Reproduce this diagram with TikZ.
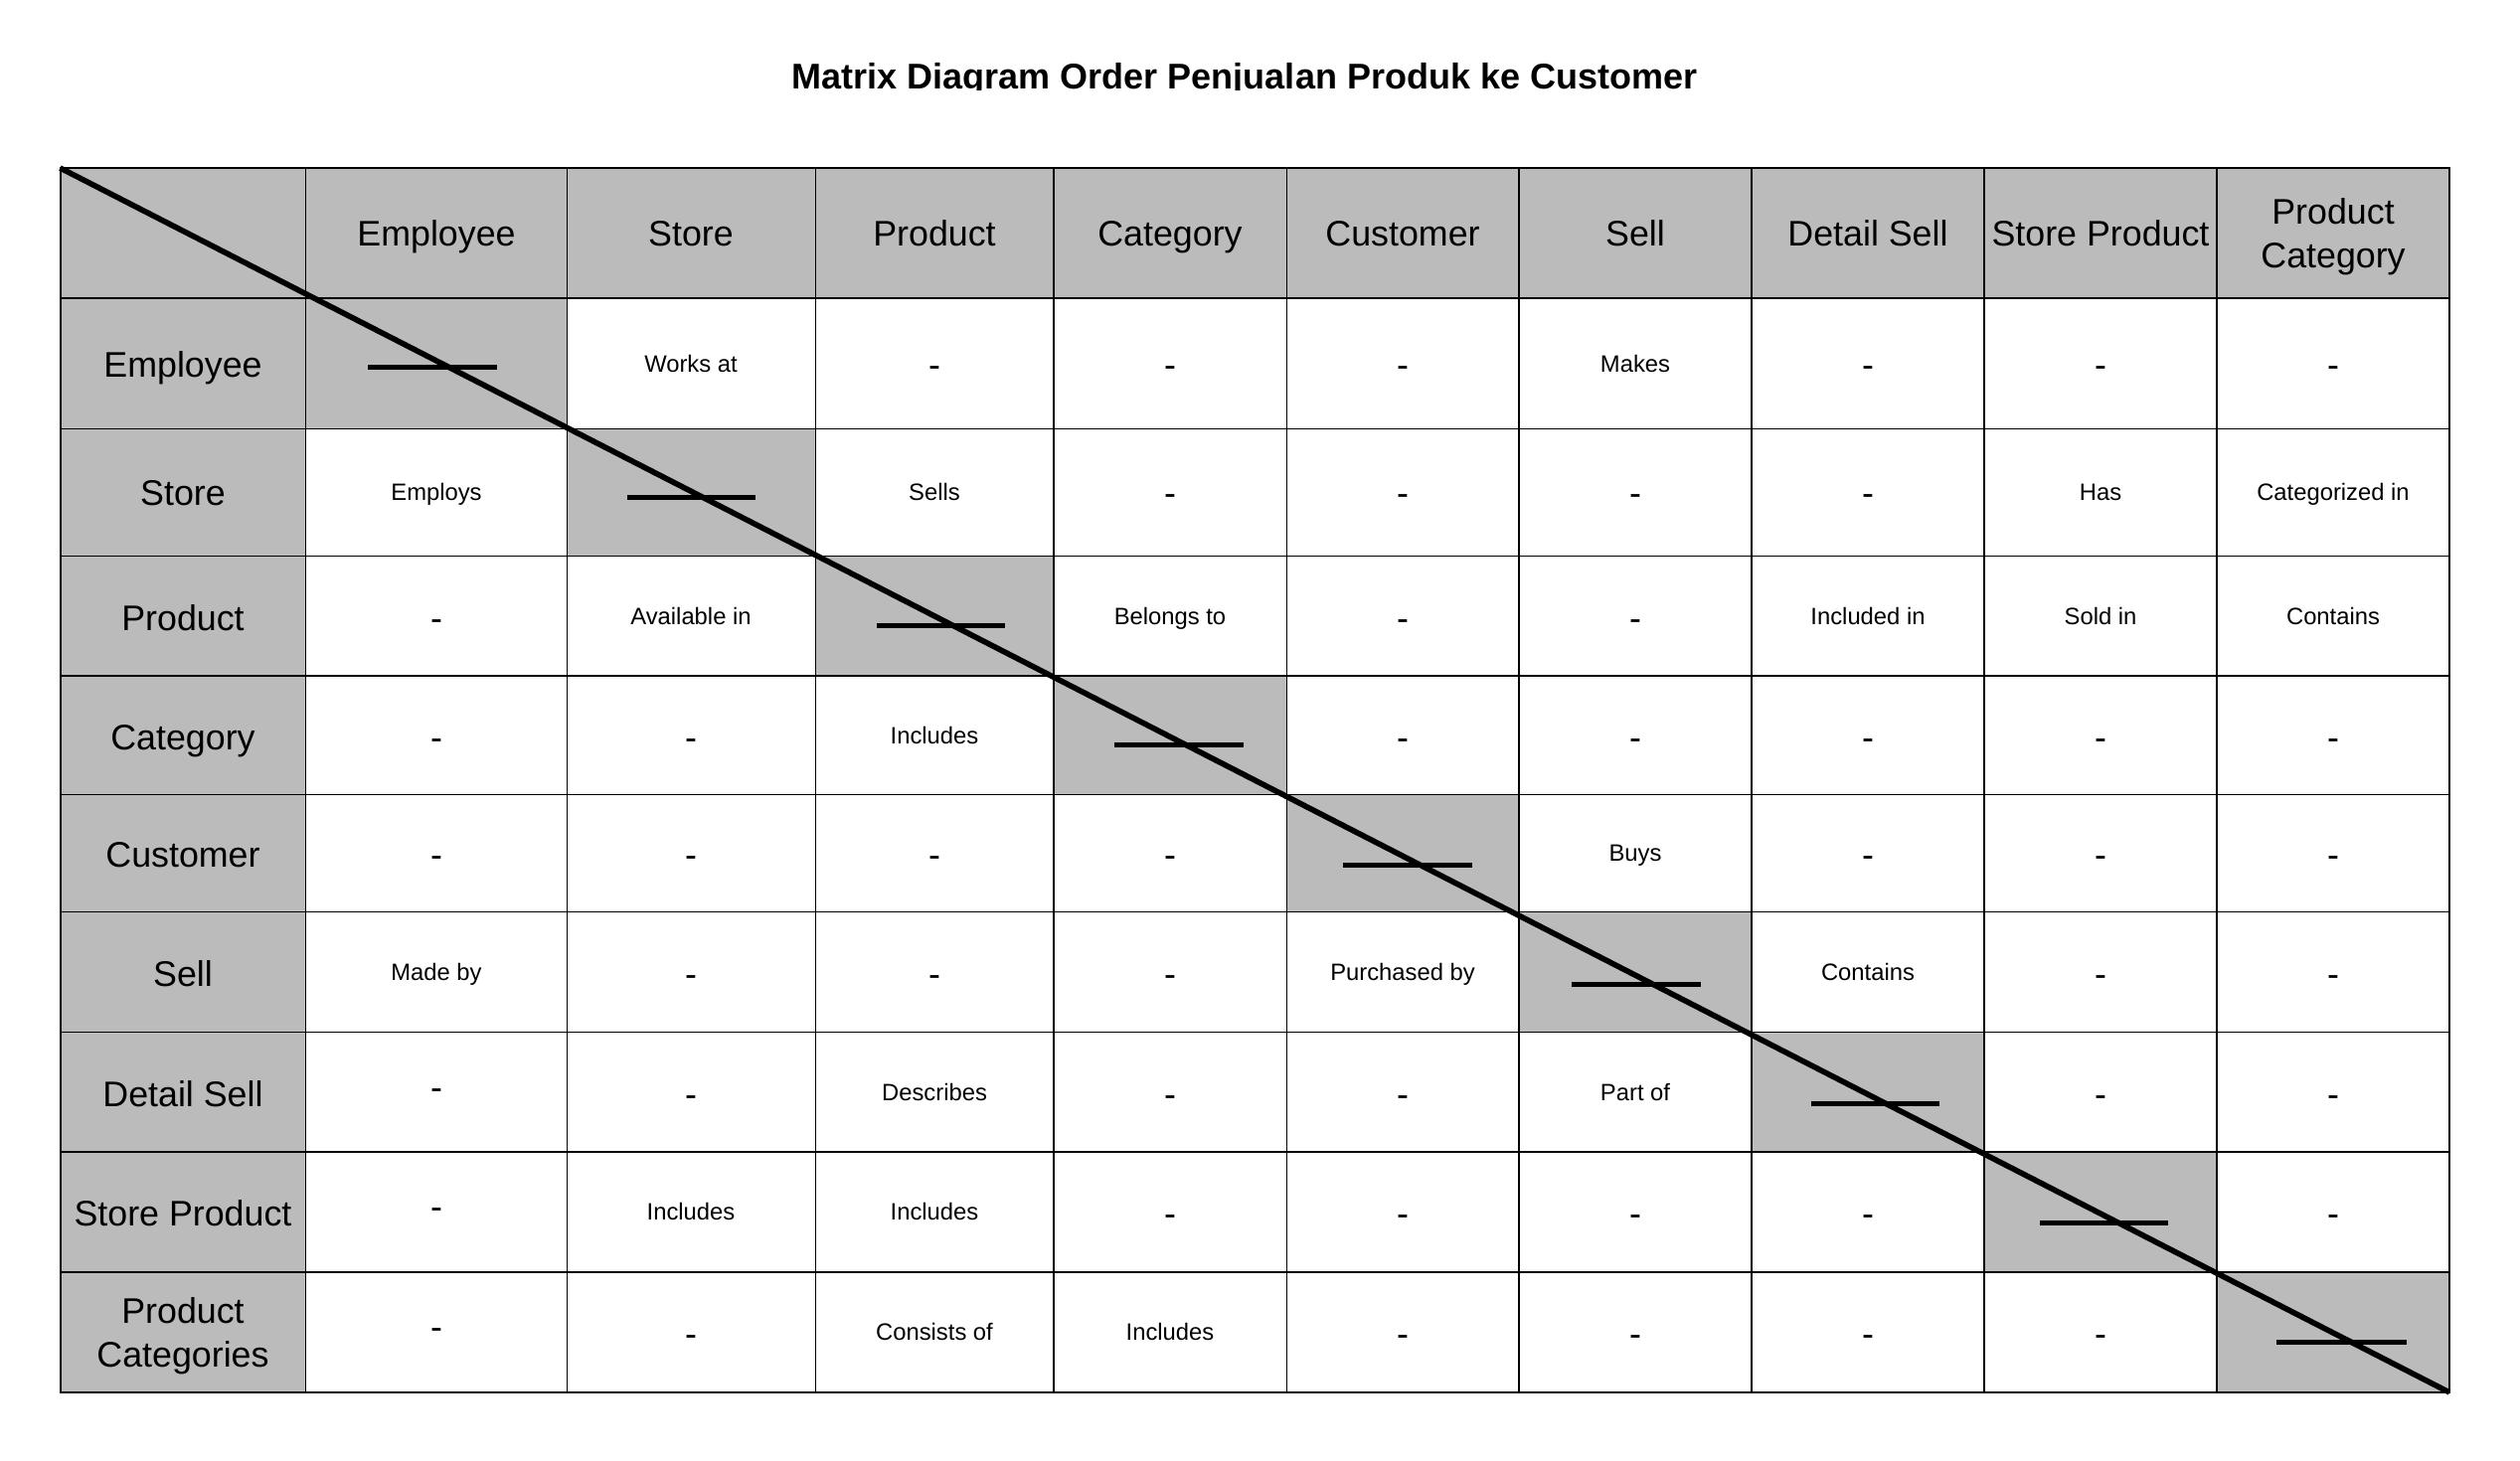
\documentclass[tikz,border=0pt]{standalone}
\usepackage{fontspec}
\setmainfont{Liberation Sans}
\definecolor{cellgray}{RGB}{187,187,187}
\tikzset{
  big/.style={font=\fontsize{17.9pt}{22pt}\selectfont, text height=14pt, text depth=0pt, inner sep=0pt},
  twoline/.style={font=\fontsize{17.9pt}{22pt}\selectfont, align=center, inner sep=0pt},
  small/.style={font=\fontsize{11.9pt}{14pt}\selectfont, text height=8.5pt, text depth=0pt, inner sep=0pt},
  heading/.style={font=\bfseries\fontsize{18pt}{22pt}\selectfont, inner sep=0pt},
  gridline/.style={line width=0.75pt},
  border/.style={line width=1pt},
  diagline/.style={line width=2.8pt},
  diagmark/.style={line width=2.5pt},
}
\begin{document}
\begin{tikzpicture}[x=0.5pt,y=-0.5pt]
\useasboundingbox (0,0) rectangle (2535,1470);

\begin{scope}
\clip (0,0) rectangle (2535,91);
\node[heading, anchor=base] (t) at (1252,90) {Matrix Diagram Order Penjualan Produk ke Customer};
\end{scope}

\fill[cellgray] (60.5,169) rectangle (2464,300);
\fill[cellgray] (60.5,300) rectangle (307.7,1401);
\fill[cellgray] (307.7,300) rectangle (570.3,431.5);
\fill[cellgray] (570.3,431.5) rectangle (820.5,559.5);
\fill[cellgray] (820.5,559.5) rectangle (1060,680);
\fill[cellgray] (1060,680) rectangle (1294.5,799.5);
\fill[cellgray] (1294.5,799.5) rectangle (1528.2,917.5);
\fill[cellgray] (1528.2,917.5) rectangle (1762.2,1038.5);
\fill[cellgray] (1762.2,1038.5) rectangle (1996,1159);
\fill[cellgray] (1996,1159) rectangle (2230,1280);
\fill[cellgray] (2230,1280) rectangle (2464,1401);

\draw[gridline] (60.5,300) -- (2464,300);
\draw[gridline] (60.5,431.5) -- (2464,431.5);
\draw[gridline] (60.5,559.5) -- (2464,559.5);
\draw[gridline] (60.5,680) -- (2464,680);
\draw[gridline] (60.5,799.5) -- (2464,799.5);
\draw[gridline] (60.5,917.5) -- (2464,917.5);
\draw[gridline] (60.5,1038.5) -- (2464,1038.5);
\draw[gridline] (60.5,1159) -- (2464,1159);
\draw[gridline] (60.5,1280) -- (2464,1280);
\draw[gridline] (307.7,169) -- (307.7,1401);
\draw[gridline] (570.3,169) -- (570.3,1401);
\draw[gridline] (820.5,169) -- (820.5,1401);
\draw[gridline] (1060,169) -- (1060,1401);
\draw[gridline] (1294.5,169) -- (1294.5,1401);
\draw[gridline] (1528.2,169) -- (1528.2,1401);
\draw[gridline] (1762.2,169) -- (1762.2,1401);
\draw[gridline] (1996,169) -- (1996,1401);
\draw[gridline] (2230,169) -- (2230,1401);
\draw[border] (60.5,169) rectangle (2464,1401);

\draw[diagline] (60.5,169) -- (2464,1401);
\draw[diagmark] (370,370) -- (500,370);
\draw[diagmark] (631,500) -- (760,500);
\draw[diagmark] (882,629.5) -- (1011,629.5);
\draw[diagmark] (1121,749) -- (1251,749);
\draw[diagmark] (1351,870) -- (1481,870);
\draw[diagmark] (1581,990.5) -- (1711,990.5);
\draw[diagmark] (1822,1110) -- (1951,1110);
\draw[diagmark] (2052,1230) -- (2181,1230);
\draw[diagmark] (2290,1350) -- (2421,1350);

\node[big] (h1) at (439,234) {Employee};
\node[big] (h2) at (695,234) {Store};
\node[big] (h3) at (940,234) {Product};
\node[big] (h4) at (1177,234) {Category};
\node[big] (h5) at (1411,234) {Customer};
\node[big] (h6) at (1645,234) {Sell};
\node[big] (h7) at (1879,234) {Detail Sell};
\node[big] (h8) at (2113,234) {Store Product};
\node[twoline] (h9) at (2347,238) {Product\\Category};

\node[big] (r1) at (184,366) {Employee};
\node[big] (r2) at (184,495) {Store};
\node[big] (r3) at (184,620) {Product};
\node[big] (r4) at (184,740) {Category};
\node[big] (r5) at (184,858) {Customer};
\node[big] (r6) at (184,978) {Sell};
\node[big] (r7) at (184,1099) {Detail Sell};
\node[big] (r8) at (184,1219) {Store Product};
\node[twoline] (r9) at (184,1344) {Product\\Categories};

\node[small] (m12) at (695,366) {Works at};
\node[big] (m13) at (940,366) {-};
\node[big] (m14) at (1177,366) {-};
\node[big] (m15) at (1411,366) {-};
\node[small] (m16) at (1645,366) {Makes};
\node[big] (m17) at (1879,366) {-};
\node[big] (m18) at (2113,366) {-};
\node[big] (m19) at (2347,366) {-};

\node[small] (m21) at (439,495) {Employs};
\node[small] (m23) at (940,495) {Sells};
\node[big] (m24) at (1177,495) {-};
\node[big] (m25) at (1411,495) {-};
\node[big] (m26) at (1645,495) {-};
\node[big] (m27) at (1879,495) {-};
\node[small] (m28) at (2113,495) {Has};
\node[small] (m29) at (2347,495) {Categorized in};

\node[big] (m31) at (439,620) {-};
\node[small] (m32) at (695,620) {Available in};
\node[small] (m34) at (1177,620) {Belongs to};
\node[big] (m35) at (1411,620) {-};
\node[big] (m36) at (1645,620) {-};
\node[small] (m37) at (1879,620) {Included in};
\node[small] (m38) at (2113,620) {Sold in};
\node[small] (m39) at (2347,620) {Contains};

\node[big] (m41) at (439,740) {-};
\node[big] (m42) at (695,740) {-};
\node[small] (m43) at (940,740) {Includes};
\node[big] (m45) at (1411,740) {-};
\node[big] (m46) at (1645,740) {-};
\node[big] (m47) at (1879,740) {-};
\node[big] (m48) at (2113,740) {-};
\node[big] (m49) at (2347,740) {-};

\node[big] (m51) at (439,858) {-};
\node[big] (m52) at (695,858) {-};
\node[big] (m53) at (940,858) {-};
\node[big] (m54) at (1177,858) {-};
\node[small] (m56) at (1645,858) {Buys};
\node[big] (m57) at (1879,858) {-};
\node[big] (m58) at (2113,858) {-};
\node[big] (m59) at (2347,858) {-};

\node[small] (m61) at (439,978) {Made by};
\node[big] (m62) at (695,978) {-};
\node[big] (m63) at (940,978) {-};
\node[big] (m64) at (1177,978) {-};
\node[small] (m65) at (1411,978) {Purchased by};
\node[small] (m67) at (1879,978) {Contains};
\node[big] (m68) at (2113,978) {-};
\node[big] (m69) at (2347,978) {-};

\node[big] (m71) at (439,1092) {-};
\node[big] (m72) at (695,1099) {-};
\node[small] (m73) at (940,1099) {Describes};
\node[big] (m74) at (1177,1099) {-};
\node[big] (m75) at (1411,1099) {-};
\node[small] (m76) at (1645,1099) {Part of};
\node[big] (m78) at (2113,1099) {-};
\node[big] (m79) at (2347,1099) {-};

\node[big] (m81) at (439,1212) {-};
\node[small] (m82) at (695,1219) {Includes};
\node[small] (m83) at (940,1219) {Includes};
\node[big] (m84) at (1177,1219) {-};
\node[big] (m85) at (1411,1219) {-};
\node[big] (m86) at (1645,1219) {-};
\node[big] (m87) at (1879,1219) {-};
\node[big] (m89) at (2347,1219) {-};

\node[big] (m91) at (439,1333) {-};
\node[big] (m92) at (695,1340) {-};
\node[small] (m93) at (940,1340) {Consists of};
\node[small] (m94) at (1177,1340) {Includes};
\node[big] (m95) at (1411,1340) {-};
\node[big] (m96) at (1645,1340) {-};
\node[big] (m97) at (1879,1340) {-};
\node[big] (m98) at (2113,1340) {-};
\end{tikzpicture}
\end{document}
